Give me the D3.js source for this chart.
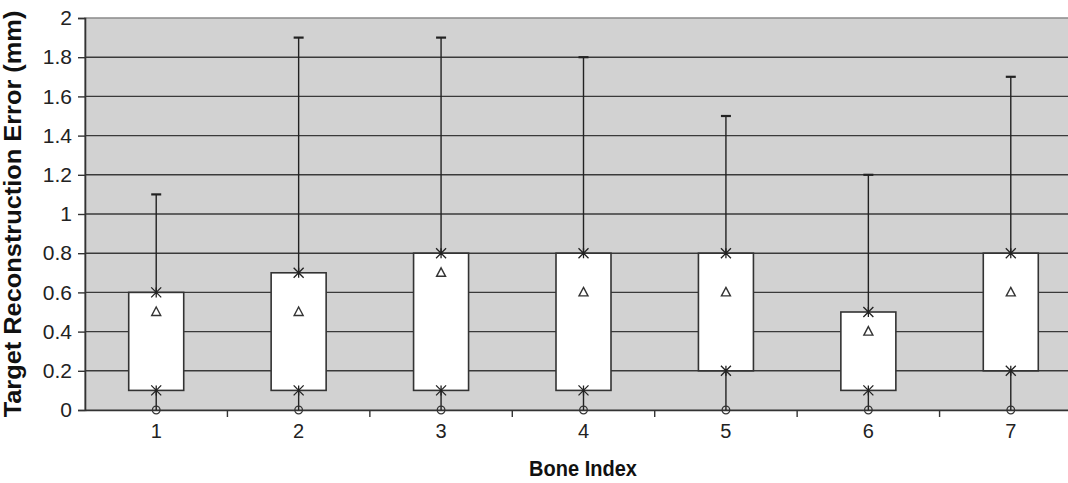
<!DOCTYPE html>
<html><head><meta charset="utf-8">
<script src="https://cdn.jsdelivr.net/npm/d3@7"></script>
<style>body{margin:0;background:#fff}svg{display:block;font-family:"Liberation Sans",Arial,sans-serif}</style>
</head><body><svg id="c" width="1068" height="483"></svg>
<script>
const categories = ["1","2","3","4","5","6","7"];
const minVals  = [0, 0, 0, 0, 0, 0, 0];
const q1Vals   = [0.1, 0.1, 0.1, 0.1, 0.2, 0.1, 0.2];
const meanVals = [0.5, 0.5, 0.7, 0.6, 0.6, 0.4, 0.6];
const q3Vals   = [0.6, 0.7, 0.8, 0.8, 0.8, 0.5, 0.8];
const maxVals  = [1.1, 1.9, 1.9, 1.8, 1.5, 1.2, 1.7];
const yTicks   = [0, 0.2, 0.4, 0.6, 0.8, 1, 1.2, 1.4, 1.6, 1.8, 2];

const svg = d3.select("#c");
const L = 85, R = 1082, T = 18, B = 410;
const x = d3.scaleBand().domain(categories).range([L, R]);
const y = d3.scaleLinear().domain([0, 2]).range([B, T]);
const FONT = "Liberation Sans, Arial, sans-serif";

svg.append("rect").attr("x", L).attr("y", T).attr("width", R - L).attr("height", B - T)
  .attr("fill", "#d2d2d2").attr("stroke", "#8a8a8a").attr("stroke-width", 1.5);

svg.append("g").selectAll("line").data(yTicks.filter(d => d > 0 && d < 2)).join("line")
  .attr("x1", L).attr("x2", R).attr("y1", d => y(d)).attr("y2", d => y(d))
  .attr("stroke", "#3a3a3a").attr("stroke-width", 1.4);

const ya = svg.append("g").attr("transform", `translate(${L},0)`)
  .call(d3.axisLeft(y).tickValues(yTicks).tickFormat(d3.format("~g")).tickSize(7).tickPadding(6));
ya.select(".domain").attr("stroke", "#333").attr("stroke-width", 1.6);
ya.selectAll(".tick line").attr("stroke", "#333").attr("stroke-width", 1.4);
ya.selectAll("text").attr("font-size", 21).attr("fill", "#222").attr("font-family", FONT);

const xa = svg.append("g").attr("transform", `translate(0,${B})`)
  .call(d3.axisBottom(x).tickSize(0).tickPadding(14));
xa.select(".domain").attr("stroke", "#333").attr("stroke-width", 1.6);
xa.selectAll("text").attr("font-size", 20).attr("fill", "#222").attr("font-family", FONT);
svg.append("g").selectAll("line").data(categories.slice(1)).join("line")
  .attr("x1", d => x(d)).attr("x2", d => x(d)).attr("y1", B).attr("y2", B + 7)
  .attr("stroke", "#333").attr("stroke-width", 1.4);

const bw = 55;
const g = svg.append("g");
categories.forEach((c, i) => {
  const cx = x(c) + x.bandwidth() / 2;
  g.append("line").attr("x1", cx).attr("x2", cx).attr("y1", y(minVals[i])).attr("y2", y(q1Vals[i])).attr("stroke", "#222").attr("stroke-width", 1.4);
  g.append("line").attr("x1", cx).attr("x2", cx).attr("y1", y(q3Vals[i])).attr("y2", y(maxVals[i])).attr("stroke", "#222").attr("stroke-width", 1.4);
  g.append("rect").attr("x", cx - bw / 2).attr("y", y(q3Vals[i])).attr("width", bw)
    .attr("height", y(q1Vals[i]) - y(q3Vals[i])).attr("fill", "#fff").attr("stroke", "#333").attr("stroke-width", 1.6);
  g.append("line").attr("x1", cx - 5).attr("x2", cx + 5).attr("y1", y(maxVals[i])).attr("y2", y(maxVals[i])).attr("stroke", "#222").attr("stroke-width", 2.2);
  [q1Vals[i], q3Vals[i]].forEach(v => {
    const yy = y(v);
    g.append("path").attr("d", `M${cx-5},${yy-5}L${cx+5},${yy+5}M${cx-5},${yy+5}L${cx+5},${yy-5}M${cx},${yy-5}L${cx},${yy+5}`)
      .attr("stroke", "#222").attr("stroke-width", 1.3).attr("fill", "none");
  });
  const ty = y(meanVals[i]);
  g.append("path").attr("d", `M${cx},${ty-5}L${cx+4.5},${ty+3.5}L${cx-4.5},${ty+3.5}Z`)
    .attr("fill", "none").attr("stroke", "#333").attr("stroke-width", 1.4);
  g.append("circle").attr("cx", cx).attr("cy", y(minVals[i])).attr("r", 3.8)
    .attr("fill", "none").attr("stroke", "#333").attr("stroke-width", 1.3);
});

svg.append("text").attr("transform", `translate(21,${(T + B) / 2}) rotate(-90) scale(1.08,1)`)
  .attr("text-anchor", "middle").attr("font-size", 23.5).attr("font-weight", "bold").attr("fill", "#111")
  .attr("font-family", FONT).text("Target Reconstruction Error (mm)");
svg.append("text").attr("transform", "translate(583,476) scale(1,1.1)").attr("text-anchor", "middle")
  .attr("font-size", 20).attr("font-weight", "bold").attr("fill", "#111").attr("font-family", FONT).text("Bone Index");
</script></body></html>
